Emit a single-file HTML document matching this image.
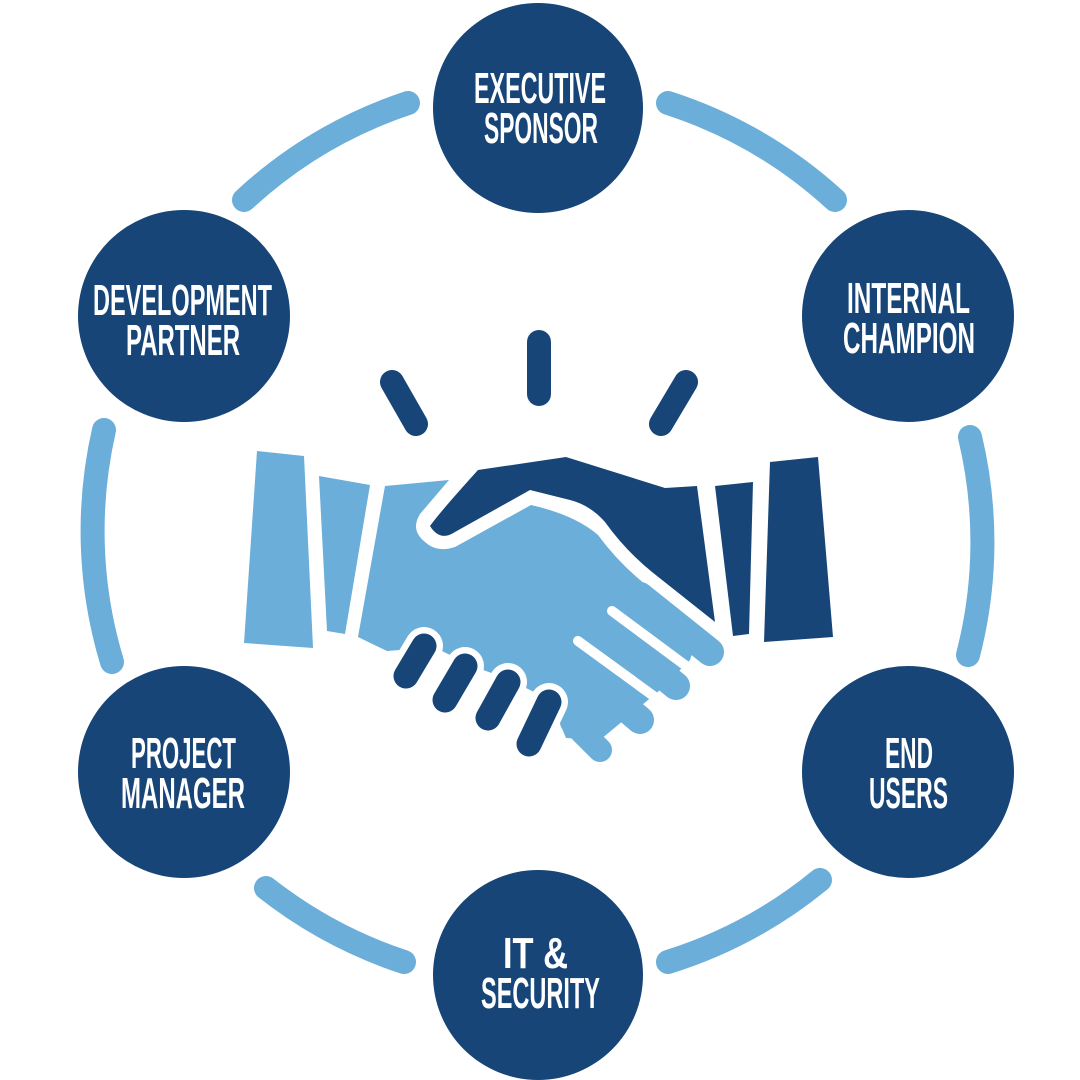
<!DOCTYPE html>
<html><head><meta charset="utf-8"><style>html,body{margin:0;padding:0;background:#fff}svg{display:block}</style></head>
<body>
<svg width="1080" height="1080" viewBox="0 0 1080 1080" xmlns="http://www.w3.org/2000/svg">
<g fill="none" stroke="#6aaed9" stroke-width="24" stroke-linecap="round">
<path d="M244,200 A452,452 0 0 1 408,103"/>
<path d="M668,103 A452,452 0 0 1 835,200"/>
<path d="M970,437 A450,450 0 0 1 968,655"/>
<path d="M820,880 A452,452 0 0 1 668,962"/>
<path d="M404,962 A452,452 0 0 1 266,888"/>
<path d="M112,662 A452,452 0 0 1 104,430"/>
</g>
<g fill="#174577">
<circle cx="538" cy="108" r="105"/>
<circle cx="908" cy="316" r="106"/>
<circle cx="908" cy="772" r="106"/>
<circle cx="538" cy="975" r="105"/>
<circle cx="184" cy="772" r="106"/>
<circle cx="184" cy="316" r="106"/>
</g>
<g fill="#fff" font-family="'Liberation Sans Narrow','Liberation Sans',sans-serif" font-weight="bold" font-size="44">
<text x="474" y="103" textLength="132" lengthAdjust="spacingAndGlyphs">EXECUTIVE</text>
<text x="484" y="143" textLength="114" lengthAdjust="spacingAndGlyphs">SPONSOR</text>
<text x="847" y="313" textLength="123" lengthAdjust="spacingAndGlyphs">INTERNAL</text>
<text x="843" y="353" textLength="132" lengthAdjust="spacingAndGlyphs">CHAMPION</text>
<text x="93" y="315" textLength="179" lengthAdjust="spacingAndGlyphs">DEVELOPMENT</text>
<text x="126" y="355" textLength="114" lengthAdjust="spacingAndGlyphs">PARTNER</text>
<text x="131" y="768" textLength="105" lengthAdjust="spacingAndGlyphs">PROJECT</text>
<text x="121" y="808" textLength="124" lengthAdjust="spacingAndGlyphs">MANAGER</text>
<text x="885" y="768" textLength="48" lengthAdjust="spacingAndGlyphs">END</text>
<text x="869" y="808" textLength="79" lengthAdjust="spacingAndGlyphs">USERS</text>
<text x="503" y="968" textLength="65" lengthAdjust="spacingAndGlyphs">IT &amp;</text>
<text x="481" y="1008" textLength="119" lengthAdjust="spacingAndGlyphs">SECURITY</text>
</g>
<g stroke="#174577" stroke-width="24" stroke-linecap="round">
<line x1="539" y1="342" x2="539" y2="394"/>
<line x1="392" y1="382" x2="416" y2="424"/>
<line x1="686" y1="382" x2="661" y2="424"/>
</g>
<polygon fill="#6aaed9" points="257,451 304,456 313,648 244,643"/>
<polygon fill="#6aaed9" points="319,476 370,485 345,634 327,631"/>
<polygon fill="#174577" points="770,462 818,457 833,637 764,642"/>
<polygon fill="#174577" points="715,486 753,482 749,634 733,636"/>
<path fill="#174577" d="M478,470 L566,457 L665,488 L697,486 L715,622 L652,572 Q625,550 605,522 Q590,505 570,500 L530,490 L455,532 Q440,542 430,526 Q440,512 478,470 Z"/>
<path fill="#6aaed9" stroke="#fff" stroke-width="9" stroke-linejoin="round" paint-order="stroke" d="M385,486 L449,480 L420,514 Q410,530 425,542 Q437,553 455,547 L531,505 Q575,515 598,535 Q620,565 650,588 L700,628 L690,660 L660,690 L630,715 L600,740 L566,738 L550,700 L510,680 L470,665 L430,645 L400,650 L387,651 L358,637 Z"/>
<g stroke="#6aaed9" stroke-linecap="round">
<line x1="640" y1="596" x2="710" y2="652" stroke-width="28"/>
<line x1="605" y1="628" x2="676" y2="686" stroke-width="28"/>
<line x1="570" y1="660" x2="640" y2="720" stroke-width="28"/>
<line x1="572" y1="722" x2="600" y2="750" stroke-width="24"/>
</g>
<g stroke="#fff" stroke-width="10" stroke-linecap="round">
<line x1="612" y1="611" x2="705" y2="680"/>
<line x1="578" y1="641" x2="670" y2="708"/>
</g>
<g stroke-linecap="round">
<g stroke="#fff" stroke-width="38">
<line x1="424" y1="646" x2="406" y2="676"/>
<line x1="465" y1="666" x2="445" y2="700"/>
<line x1="508" y1="682" x2="488" y2="718"/>
<line x1="549" y1="702" x2="529" y2="744"/>
</g>
<g stroke="#174577" stroke-width="25">
<line x1="424" y1="646" x2="406" y2="676"/>
<line x1="465" y1="666" x2="445" y2="700"/>
<line x1="508" y1="682" x2="488" y2="718"/>
<line x1="549" y1="702" x2="529" y2="744"/>
</g>
</g>
</svg>
</body></html>
